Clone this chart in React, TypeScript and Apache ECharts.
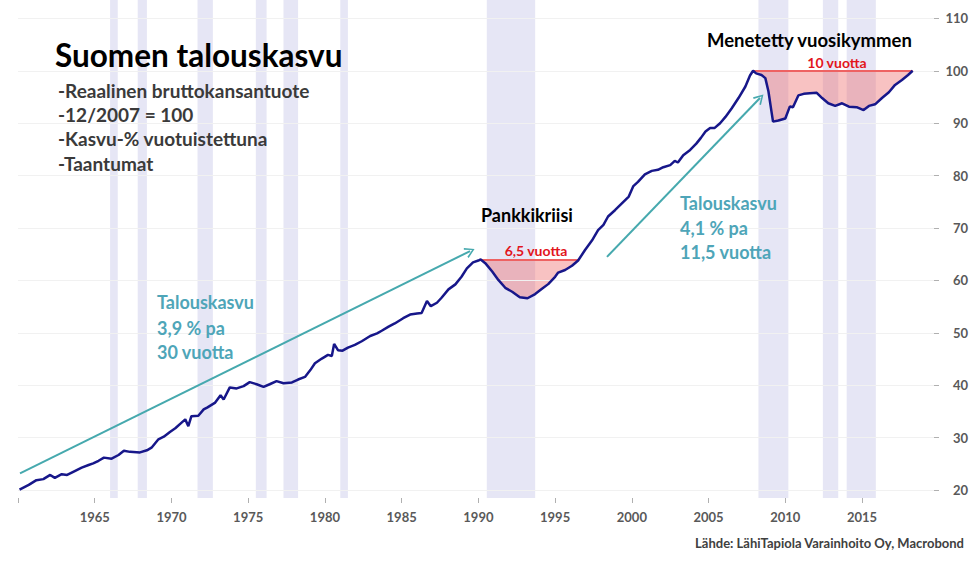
import React, { useEffect, useRef } from "react";
import * as echarts from "echarts";

const gdp: [number, number][] = [
  [1960.1, 20.1], [1960.7, 21.0], [1961.2, 21.9], [1961.65, 22.1], [1962.1, 22.9], [1962.4, 22.35],
  [1962.85, 23.05], [1963.2, 22.9], [1963.6, 23.5], [1964.15, 24.3], [1964.6, 24.8], [1964.9, 25.1],
  [1965.25, 25.6], [1965.6, 26.2], [1966.1, 26.0], [1966.55, 26.7], [1966.9, 27.5], [1967.3, 27.3],
  [1967.95, 27.2], [1968.4, 27.6], [1968.7, 28.1], [1969.15, 29.7], [1969.5, 30.2], [1969.9, 31.1],
  [1970.25, 31.8], [1970.55, 32.6], [1970.9, 33.5], [1971.1, 32.2], [1971.3, 34.1], [1971.75, 34.2],
  [1972.1, 35.4], [1972.35, 35.8], [1972.85, 36.7], [1973.2, 38.1], [1973.4, 37.3], [1973.8, 39.6],
  [1974.25, 39.4], [1974.7, 39.85], [1975.1, 40.6], [1975.55, 40.2], [1976.0, 39.7], [1976.4, 40.2],
  [1976.85, 40.8], [1977.3, 40.4], [1977.85, 40.55], [1978.25, 41.1], [1978.7, 41.6], [1979.05, 42.9],
  [1979.35, 44.2], [1979.8, 45.1], [1980.2, 45.8], [1980.45, 45.6], [1980.6, 47.9], [1980.85, 46.7],
  [1981.15, 46.6], [1981.5, 47.2], [1981.95, 47.7], [1982.4, 48.4], [1982.95, 49.4], [1983.4, 49.9],
  [1983.7, 50.4], [1984.15, 51.2], [1984.55, 51.8], [1985.1, 52.8], [1985.55, 53.5], [1986.0, 53.7],
  [1986.3, 53.8], [1986.65, 56.1], [1986.9, 55.1], [1987.3, 55.75], [1987.6, 56.7], [1988.05, 58.3],
  [1988.5, 59.25], [1988.9, 60.7], [1989.25, 62.3], [1989.65, 63.45], [1990.0, 63.8], [1990.15, 64.0],
  [1990.45, 63.3], [1990.9, 61.7], [1991.3, 60.1], [1991.75, 58.6], [1992.2, 57.85], [1992.7, 56.8],
  [1993.2, 56.6], [1993.7, 57.4], [1994.1, 58.3], [1994.55, 59.3], [1995.0, 60.7], [1995.2, 61.5],
  [1995.65, 62.0], [1996.1, 62.8], [1996.5, 63.8], [1996.95, 65.8], [1997.4, 67.6], [1997.8, 69.6],
  [1998.15, 70.6], [1998.45, 72.2], [1998.9, 73.4], [1999.35, 74.7], [1999.8, 76.0], [2000.1, 78.0],
  [2000.4, 78.8], [2000.85, 80.25], [2001.3, 80.9], [2001.7, 81.1], [2002.05, 81.6], [2002.5, 82.0],
  [2002.8, 82.8], [2003.0, 82.5], [2003.35, 83.9], [2003.8, 84.9], [2004.2, 86.1], [2004.5, 87.2],
  [2004.8, 88.4], [2005.1, 89.1], [2005.4, 89.1], [2005.75, 90.0], [2006.1, 91.2], [2006.5, 92.8],
  [2006.95, 94.8], [2007.4, 97.0], [2007.7, 99.1], [2007.9, 100.0], [2008.1, 99.5], [2008.45, 99.2],
  [2008.7, 98.6], [2008.9, 96.1], [2009.1, 92.2], [2009.2, 90.3], [2009.55, 90.5], [2010.0, 90.9],
  [2010.3, 93.2], [2010.5, 93.05], [2010.85, 95.3], [2011.2, 95.6], [2011.6, 95.7], [2012.05, 95.8],
  [2012.4, 94.8], [2012.8, 93.8], [2013.25, 93.3], [2013.7, 93.8], [2014.15, 93.15], [2014.65, 93.05],
  [2015.1, 92.5], [2015.45, 93.3], [2015.85, 93.6], [2016.3, 94.8], [2016.75, 95.9], [2017.15, 97.3],
  [2017.6, 98.25], [2018.0, 99.2], [2018.3, 100.0],
];

// Recessions (shaded bands)
const recessionStart = [1966.0, 1967.8, 1971.7, 1975.5, 1977.3, 1981.0, 1990.55, 2008.25, 2012.45, 2014.0];
const recessionEnd = [1966.5, 1968.4, 1972.7, 1976.2, 1978.25, 1981.5, 1993.7, 2010.2, 2013.45, 2015.9];

// Crises: lost output below previous peak
const crisisStart = [1990.15, 2007.9];
const crisisEnd = [1996.55, 2018.3];
const crisisLevel = [64.0, 100.0];
const crisisLabels = ["6,5 vuotta", "10 vuotta"];

// Growth trend arrows: [startYear, startValue, endYear, endValue]
const arrowLines: [number, number, number, number][] = [
  [1960.13, 23.2, 1989.46, 65.6],
  [1998.38, 64.5, 2008.35, 94.8],
];

const yTicks = [20, 30, 40, 50, 60, 70, 80, 90, 100, 110];
const xTicks = [1960, 1965, 1970, 1975, 1980, 1985, 1990, 1995, 2000, 2005, 2010, 2015];
const xLabels = [1965, 1970, 1975, 1980, 1985, 1990, 1995, 2000, 2005, 2010, 2015];

const FONT = "Lato, 'Open Sans', sans-serif";
const TEAL_TEXT = "#4ea5b8";
const TEAL_LINE = "#46a9ae";
const RED = "#e2151c";

export default function App() {
  const ref = useRef<HTMLDivElement>(null);

  useEffect(() => {
    if (!ref.current) return;
    const chart = echarts.init(ref.current, undefined, { renderer: "svg" });

    const crisisSeries: any[] = crisisStart.map((s, i) => ({
      type: "line",
      data: gdp.filter((p) => p[0] >= s && p[0] <= crisisEnd[i]),
      symbol: "none",
      showSymbol: false,
      lineStyle: { width: 0 },
      areaStyle: { origin: crisisLevel[i], color: "rgba(238,110,110,0.6)" },
      z: 3,
      silent: true,
      markLine: {
        silent: true,
        symbol: ["none", "none"],
        label: { show: false },
        lineStyle: { color: "#ee6262", width: 2, type: "solid" },
        data: [[{ coord: [s, crisisLevel[i]] }, { coord: [crisisEnd[i], crisisLevel[i]] }]],
      },
    }));

    const chevron = "path://M0,10 L5,0 L10,10 L8.6,10.8 L5,3 L1.4,10.8 Z";

    const txt = (x: number, y: number, text: string, font: string, fill: string, align = "left") => ({
      type: "text",
      x,
      y,
      z: 100,
      silent: true,
      style: { text, font, fill, textAlign: align, textVerticalAlign: "middle" },
    });

    const option: any = {
      animation: false,
      backgroundColor: "#ffffff",
      textStyle: { fontFamily: FONT },
      grid: { left: 18, right: 42, top: 0, bottom: 63, containLabel: false },
      xAxis: {
        type: "value",
        min: 1960,
        max: 2019.69,
        axisLine: { show: false },
        axisTick: { show: true, length: 5, lineStyle: { color: "#b0b0b0" }, customValues: xTicks },
        axisLabel: {
          customValues: xLabels,
          formatter: (v: number) => String(v),
          color: "#595959",
          fontWeight: "bold",
          fontSize: 13,
          fontFamily: FONT,
          margin: 12,
        },
        splitLine: { show: false },
      },
      yAxis: {
        type: "value",
        position: "right",
        min: 18.5,
        max: 113.5,
        axisLine: { show: false },
        axisTick: { show: true, length: 5, lineStyle: { color: "#b0b0b0" }, customValues: yTicks },
        axisLabel: {
          customValues: yTicks,
          formatter: (v: number) => String(v),
          color: "#595959",
          fontWeight: "bold",
          fontSize: 13,
          fontFamily: FONT,
          align: "right",
          margin: 34,
        },
        splitLine: { show: false },
      },
      series: [
        {
          type: "line",
          data: [],
          silent: true,
          z: 1,
          markArea: {
            silent: true,
            itemStyle: { color: "rgba(190,190,228,0.38)" },
            data: recessionStart.map((s, i) => [{ xAxis: s }, { xAxis: recessionEnd[i] }]),
          },
          markLine: {
            silent: true,
            symbol: ["none", "none"],
            label: { show: false },
            lineStyle: { color: "#f1f1f1", width: 1, type: "solid" },
            data: yTicks.map((v) => ({ yAxis: v })),
          },
        },
        ...crisisSeries,
        {
          type: "line",
          name: "BKT",
          data: gdp,
          symbol: "none",
          showSymbol: false,
          lineStyle: { color: "#17178a", width: 2.5 },
          z: 5,
          silent: true,
        },
        {
          type: "line",
          data: [],
          silent: true,
          z: 6,
          markLine: {
            silent: true,
            symbol: ["none", chevron],
            symbolSize: [11, 10],
            label: { show: false },
            lineStyle: { color: TEAL_LINE, width: 2, type: "solid" },
            itemStyle: { color: TEAL_LINE },
            data: arrowLines.map((a) => [{ coord: [a[0], a[1]] }, { coord: [a[2], a[3]] }]),
          },
        },
      ],
      graphic: [
        txt(55, 55, "Suomen talouskasvu", `bold 31.5px ${FONT}`, "#000"),
        txt(58, 90, "-Reaalinen bruttokansantuote", `bold 19px ${FONT}`, "#3a3a3a"),
        txt(58, 114, "-12/2007 = 100", `bold 19px ${FONT}`, "#3a3a3a"),
        txt(58, 138.5, "-Kasvu-% vuotuistettuna", `bold 19px ${FONT}`, "#3a3a3a"),
        txt(58, 163, "-Taantumat", `bold 19px ${FONT}`, "#3a3a3a"),

        txt(157, 302, "Talouskasvu", `bold 18px ${FONT}`, TEAL_TEXT),
        txt(157, 328, "3,9 % pa", `bold 18px ${FONT}`, TEAL_TEXT),
        txt(157, 352, "30 vuotta", `bold 18px ${FONT}`, TEAL_TEXT),

        txt(680, 203, "Talouskasvu", `bold 18px ${FONT}`, TEAL_TEXT),
        txt(680, 228, "4,1 % pa", `bold 18px ${FONT}`, TEAL_TEXT),
        txt(680, 252, "11,5 vuotta", `bold 18px ${FONT}`, TEAL_TEXT),

        txt(481, 215, "Pankkikriisi", `bold 18px ${FONT}`, "#000"),
        txt(536, 250, crisisLabels[0], `bold 14px ${FONT}`, RED, "center"),
        txt(707, 40, "Menetetty vuosikymmen", `bold 18.5px ${FONT}`, "#000"),
        txt(837, 62, crisisLabels[1], `bold 14px ${FONT}`, RED, "center"),

        txt(964, 543, "Lähde: LähiTapiola Varainhoito Oy, Macrobond", `bold 13px ${FONT}`, "#404040", "right"),
      ],
    };

    chart.setOption(option);
    return () => chart.dispose();
  }, []);

  return (
    <div
      ref={ref}
      style={{ position: "fixed", left: 0, top: 0, width: 976, height: 561, background: "#fff" }}
    />
  );
}
